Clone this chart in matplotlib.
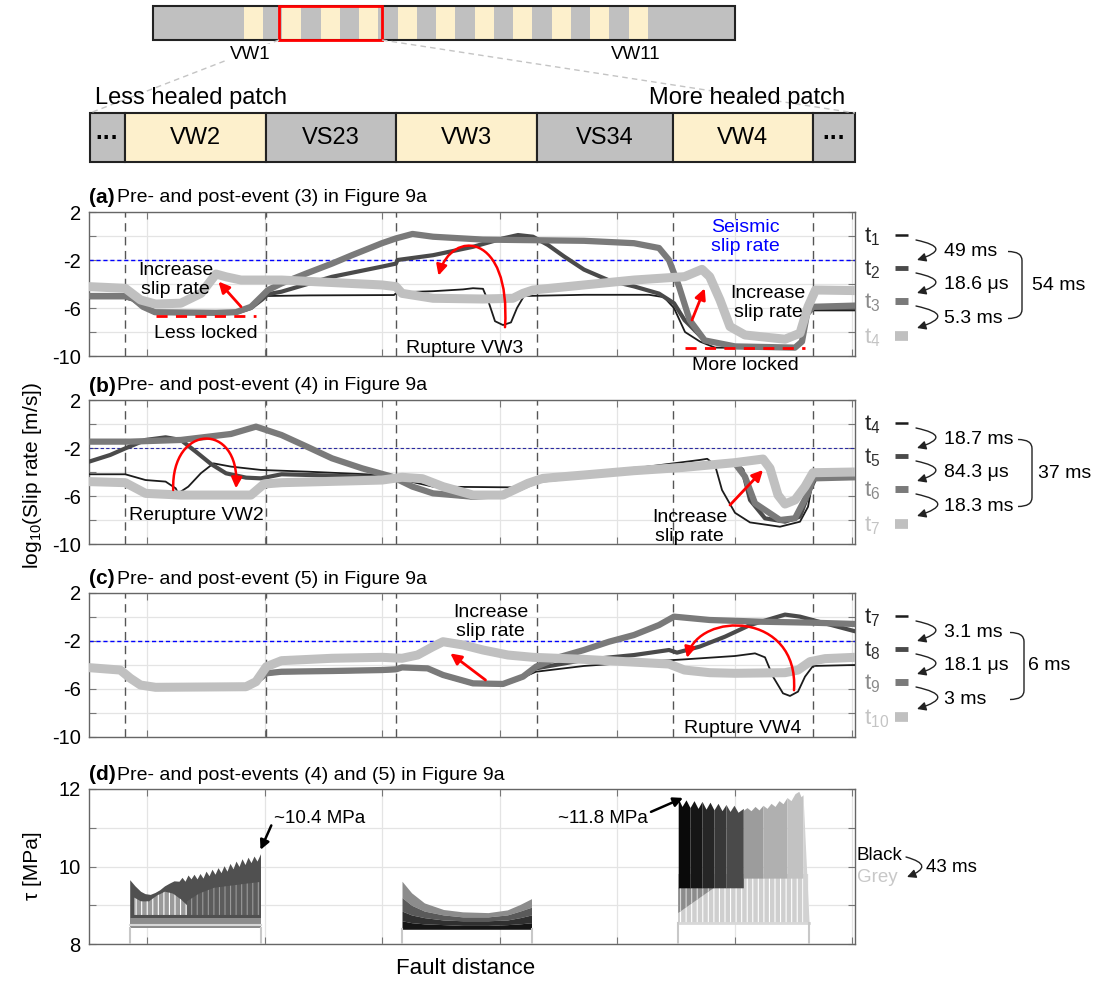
import numpy as np
import matplotlib
matplotlib.use('Agg')
from matplotlib import pyplot as plt
from matplotlib.path import Path
from matplotlib.patches import Rectangle, PathPatch, FancyArrowPatch

plt.rcParams['font.family'] = ['Liberation Sans', 'DejaVu Sans']
plt.rcParams['mathtext.fontset'] = 'custom'
plt.rcParams['mathtext.rm'] = 'Liberation Sans'
plt.rcParams['mathtext.it'] = 'Liberation Sans:italic'
plt.rcParams['hatch.linewidth'] = 0.8


# ---------------- data ----------------
patch_edges = [3.55, 17.7, 30.7, 44.8, 58.35, 72.4]      # VS/VW boundaries
xgrid       = [5.8, 17.55, 29.3, 41.05, 52.8, 64.55, 76.3]

# (a) event (3): t1..t4
a_t1_x = [0, 3.6, 4.4, 5.4, 6.6, 12.7, 14.7, 16.2, 17.2, 17.8, 22.0, 30.5, 30.8, 34.4, 37.4, 38.4, 39.4, 40.0, 40.6, 41.4, 42.2, 42.8, 43.5, 49.5, 56.0, 57.5, 58.5, 59.6, 61.1, 62.6, 67.0, 70.6, 71.3, 71.8, 72.4, 76.6]
a_t1_v = [-5.06, -5.06, -5.2, -5.9, -6.4, -6.45, -6.4, -6.0, -5.3, -5.0, -4.95, -4.92, -4.7, -4.6, -4.45, -4.35, -4.4, -5.6, -7.1, -7.42, -7.2, -6.0, -5.0, -4.9, -4.9, -5.1, -6.0, -8.0, -8.8, -9.3, -9.35, -9.3, -8.5, -6.6, -6.2, -6.2]
a_t2_x = [0, 3.6, 4.4, 5.4, 6.6, 12.7, 14.7, 16.2, 17.3, 17.9, 19.25, 24.3, 29.3, 30.7, 30.85, 34.4, 38.4, 41.4, 42.9, 44.4, 45.9, 47.5, 49.5, 52, 54.5, 57, 58.5, 59.55, 61.57, 64.6, 70.6, 71.3, 71.8, 72.4, 76.6]
a_t2_v = [-5.1, -5.1, -5.3, -5.9, -6.4, -6.45, -6.4, -6.0, -5.3, -4.85, -4.64, -3.4, -2.55, -2.3, -2.0, -1.6, -0.9, -0.2, 0.08, -0.06, -0.75, -1.7, -2.8, -3.7, -4.2, -4.8, -5.6, -7.0, -8.7, -9.25, -9.3, -8.8, -6.5, -6.0, -6.0]
a_t3_x = [0, 3.6, 4.4, 5.4, 6.6, 12.7, 14.7, 16.2, 17.3, 17.9, 19.25, 21.8, 24.3, 26.3, 29.3, 30.7, 32.35, 34.4, 39.4, 49.5, 54.5, 57.0, 58.0, 59.0, 60.06, 61.57, 64.6, 70.6, 71.3, 71.8, 72.4, 76.6]
a_t3_v = [-5.0, -5.0, -5.2, -5.9, -6.35, -6.4, -6.35, -5.9, -5.0, -4.5, -3.95, -3.1, -2.3, -1.6, -0.6, -0.2, 0.17, -0.06, -0.3, -0.4, -0.6, -1.0, -2.0, -4.2, -7.0, -8.7, -9.2, -9.3, -8.8, -6.5, -5.9, -5.8]
a_t4_x = [0, 3.63, 5.15, 6.66, 9.18, 11.2, 12.7, 13.7, 15.2, 19.25, 29.3, 30.7, 31.3, 34.4, 39.4, 42.4, 43.4, 44.4, 49.5, 54.5, 59.55, 61.3, 62.07, 63.1, 64.1, 65.6, 69.6, 71.1, 71.9, 72.65, 76.6]
a_t4_v = [-4.22, -4.36, -5.33, -5.67, -5.6, -4.78, -3.17, -3.4, -3.67, -3.67, -4.08, -4.22, -4.78, -5.19, -5.25, -5.19, -4.78, -4.5, -4.08, -3.67, -3.39, -2.78, -3.39, -5.33, -7.55, -8.25, -8.6, -8.1, -5.9, -4.5, -4.55]

# (b) event (4): t4..t7
b_t4_x = [0, 3.63, 5.65, 7.66, 8.67, 8.92, 9.93, 11.19, 12.45, 14.2, 17.2, 21.8, 29.3, 30.7, 34.4, 42.4, 44.4, 49.5, 54.5, 61.06, 61.82, 62.6, 63.3, 64.6, 66.1, 69.1, 71.1, 71.9, 72.4, 76.6]
b_t4_v = [-4.19, -4.19, -4.67, -4.8, -5.36, -5.78, -5.22, -4.1, -3.28, -3.55, -3.83, -3.97, -4.25, -4.53, -5.22, -5.28, -4.8, -4.1, -3.7, -3.0, -2.9, -3.42, -5.5, -7.4, -8.2, -8.56, -8.14, -6.9, -4.67, -4.39]
b_t5_x = [0, 2.12, 3.63, 5.65, 7.66, 9.18, 10.69, 12.2, 13.7, 15.7, 17.2, 19.25, 24.3, 29.3, 30.7, 32.35, 34.4, 38.4, 41.4, 43.4, 44.7, 49.5, 54.5, 59.55, 64.6, 65.35, 66.1, 67.6, 69.6, 71.1, 72.1, 72.65, 76.6]
b_t5_v = [-3.14, -2.58, -2.03, -1.33, -1.11, -1.33, -2.31, -3.33, -4.11, -4.47, -4.53, -4.19, -4.3, -4.44, -4.58, -5.22, -5.78, -6.11, -5.92, -5.22, -4.67, -4.25, -3.83, -3.5, -3.28, -3.83, -6.33, -7.86, -8.14, -7.72, -5.5, -4.53, -4.39]
b_t6_x = [0, 4.14, 9.18, 14.2, 16.7, 19.25, 21.8, 24.3, 27.3, 30.3, 32.35, 34.4, 38.4, 41.4, 43.4, 44.9, 49.5, 54.5, 59.55, 64.6, 65.6, 66.6, 69.1, 70.6, 71.9, 72.4, 76.6]
b_t6_v = [-1.47, -1.47, -1.33, -0.83, -0.22, -0.92, -1.89, -2.86, -3.69, -4.39, -5.22, -5.78, -6.06, -5.92, -5.22, -4.67, -4.25, -3.83, -3.5, -3.28, -4.39, -6.61, -8.0, -7.86, -5.78, -4.53, -4.44]
b_t7_x = [0, 3.63, 5.65, 9.18, 16.2, 17.5, 19.25, 29.3, 31.3, 33.35, 35.4, 38.4, 41.4, 43.9, 45.4, 49.5, 54.5, 59.55, 64.6, 67.4, 68.1, 68.9, 69.6, 70.6, 71.6, 72.4, 76.6]
b_t7_v = [-4.8, -4.89, -5.78, -5.92, -5.92, -5.0, -4.89, -4.67, -4.44, -4.56, -5.22, -5.92, -5.92, -4.94, -4.53, -4.25, -3.89, -3.61, -3.22, -2.92, -3.69, -5.92, -6.67, -6.33, -5.22, -4.06, -4.0]

# (c) event (5): t7..t10
c_t7_x = [0, 3.13, 4.14, 5.15, 6.66, 15.7, 16.7, 17.74, 19.25, 24.3, 29.3, 30.7, 31.3, 33.86, 35.4, 38.4, 41.4, 43.4, 44.7, 49.5, 54.5, 59.55, 64.6, 66.6, 67.6, 68.4, 69.4, 70.1, 70.9, 71.6, 72.4, 76.6]
c_t7_v = [-4.32, -4.47, -5.15, -5.72, -5.9, -5.85, -5.42, -4.75, -4.62, -4.56, -4.48, -4.43, -4.25, -4.33, -4.88, -5.58, -5.62, -5.03, -4.56, -4.08, -3.78, -3.53, -3.25, -3.03, -3.36, -4.97, -6.36, -6.58, -6.22, -4.97, -4.08, -4.0]
c_t8_x = [0, 3.13, 4.14, 5.15, 6.66, 15.7, 16.7, 17.74, 19.25, 24.3, 29.3, 30.7, 31.3, 33.86, 35.4, 38.4, 41.4, 43.4, 44.7, 49.5, 54.5, 58.0, 58.8, 61.06, 63.6, 66.1, 69.6, 71.1, 73.6, 76.6]
c_t8_v = [-4.3, -4.45, -5.13, -5.7, -5.88, -5.83, -5.4, -4.72, -4.6, -4.53, -4.45, -4.4, -4.22, -4.3, -4.86, -5.56, -5.6, -5.0, -4.28, -3.58, -3.17, -2.75, -2.97, -2.47, -1.64, -0.67, 0.2, 0.03, -0.53, -1.19]
c_t9_x = [0, 3.13, 4.14, 5.15, 6.66, 15.7, 16.7, 17.74, 19.25, 24.3, 29.3, 30.7, 31.3, 33.86, 35.4, 38.4, 41.4, 43.4, 44.7, 46.96, 49.5, 52.0, 54.5, 57.0, 58.5, 62.07, 67.1, 72.1, 76.6]
c_t9_v = [-4.28, -4.42, -5.11, -5.67, -5.86, -5.81, -5.39, -4.69, -4.56, -4.5, -4.42, -4.36, -4.2, -4.28, -4.83, -5.53, -5.58, -4.97, -4.14, -3.36, -2.75, -2.06, -1.5, -0.67, 0.03, -0.25, -0.39, -0.47, -0.58]
c_t10_x = [0, 3.13, 4.14, 5.15, 6.66, 15.7, 16.7, 17.74, 19.25, 24.3, 29.3, 31.3, 32.85, 34.4, 35.4, 37.4, 39.4, 41.9, 44.4, 49.5, 58.0, 59.55, 62.07, 64.6, 69.6, 70.9, 72.1, 73.6, 76.6]
c_t10_v = [-4.22, -4.42, -5.11, -5.67, -5.86, -5.81, -5.39, -4.14, -3.64, -3.44, -3.36, -3.44, -3.17, -2.47, -2.06, -2.33, -2.75, -3.17, -3.36, -3.53, -3.92, -4.42, -4.64, -4.69, -4.64, -4.42, -3.72, -3.47, -3.36]

# (d) shear stress envelopes, VW2 / VW3 / VW4
dl_x   = [4.07, 4.6, 5.16, 5.6, 6.12, 6.6, 7.07, 7.55, 8.03, 8.5, 9.0, 9.3, 9.6, 9.9, 10.2, 10.5, 10.8, 11.1, 11.4, 11.7, 12.0, 12.3, 12.6, 12.9, 13.2, 13.5, 13.8, 14.1, 14.4, 14.7, 15.0, 15.3, 15.6, 15.9, 16.2, 16.5, 16.8, 17.15]
dl_top = [9.66, 9.5, 9.36, 9.3, 9.28, 9.33, 9.4, 9.5, 9.57, 9.63, 9.62, 9.72, 9.62, 9.78, 9.68, 9.8, 9.68, 9.82, 9.7, 9.88, 9.76, 9.93, 9.8, 9.97, 9.84, 10.02, 9.88, 10.08, 9.94, 10.14, 10.0, 10.2, 10.05, 10.24, 10.1, 10.27, 10.14, 10.33]
dlh_x   = [4.5, 5.2, 6.0, 6.8, 7.6, 8.4, 9.2, 9.8]
dlh_top = [9.2, 9.1, 9.1, 9.25, 9.35, 9.3, 9.15, 9.0]
dld_x   = [9.8, 11.0, 12.5, 14.0, 15.5, 17.1]
dld_top = [9.1, 9.3, 9.45, 9.5, 9.55, 9.6]
dm_x  = [31.3, 32.26, 33.54, 35.45, 37.36, 39.91, 41.83, 43.1, 44.25]
dm_top = [9.62, 9.32, 9.06, 8.89, 8.83, 8.81, 8.88, 9.02, 9.17]
dm_b1  = [9.2, 9.0, 8.85, 8.75, 8.7, 8.7, 8.75, 8.85, 8.95]
dm_b2  = [8.85, 8.75, 8.68, 8.62, 8.6, 8.6, 8.62, 8.68, 8.75]
dm_b3  = [8.6, 8.55, 8.52, 8.5, 8.48, 8.48, 8.5, 8.52, 8.55]
dr_x   = [58.92, 59.3, 59.7, 60.1, 60.5, 60.9, 61.3, 61.7, 62.1, 62.5, 62.9, 63.3, 63.7, 64.1, 64.5, 64.9, 65.43]
dr_top = [11.76, 11.55, 11.72, 11.52, 11.7, 11.5, 11.68, 11.48, 11.66, 11.46, 11.63, 11.44, 11.6, 11.42, 11.58, 11.4, 11.5]
drl_x   = [65.43, 65.8, 66.2, 66.6, 67.0, 67.4, 67.8, 68.2, 68.6, 69.0, 69.4, 69.8, 70.2, 70.6, 70.98, 71.2, 71.4]
drl_top = [11.45, 11.52, 11.44, 11.55, 11.46, 11.58, 11.5, 11.63, 11.55, 11.7, 11.62, 11.78, 11.7, 11.88, 11.94, 11.8, 11.85]

time_labels = [['1', '2', '3', '4'], ['4', '5', '6', '7'], ['7', '8', '9', '10']]
time_steps  = [['49 ms', '18.6 μs', '5.3 ms'], ['18.7 ms', '84.3 μs', '18.3 ms'], ['3.1 ms', '18.1 μs', '3 ms']]
time_total  = ['54 ms', '37 ms', '6 ms']

line_col = ['#1c1c1c', '#4a4a4a', '#7a7a7a', '#c0c0c0']
line_lw  = [1.3, 3.0, 4.5, 6.5]
lab_col  = ['#222222', '#333333', '#8a8a8a', '#c4c4c4']


# ---------------- figure ----------------
W, H = 1097, 982
fig = plt.figure(figsize=(W/100, H/100), dpi=100)

def px_axes(l, t, r, b):
    return fig.add_axes([l/W, 1-b/H, (r-l)/W, (b-t)/H])

def style(ax, ylim, yticks, ylabs, dashed=True):
    ax.set_xlim(0, 76.6)
    ax.set_ylim(*ylim)
    ax.set_xticks(xgrid)
    ax.set_xticklabels([])
    ax.set_yticks(yticks)
    ax.set_yticklabels(ylabs, fontsize=14.5)
    ax.tick_params(direction='in', length=5, color='#777', top=True, right=True, pad=6)
    ax.grid(True, color='#e4e4e4', lw=0.9)
    ax.set_axisbelow(True)
    for s in ax.spines.values():
        s.set_color('#666'); s.set_linewidth(1)
    if dashed:
        for xb in patch_edges:
            ax.axvline(xb, color='#555', ls=(0, (6, 4)), lw=1, zorder=1)

def curves(ax, xs, vs):
    # plotted in time order: the later (lighter, thicker) snapshot lies on top
    for i in range(4):
        ax.plot(xs[i], vs[i], color=line_col[i], lw=line_lw[i], zorder=3+i,
                solid_joinstyle='round', solid_capstyle='round')

def red_arrow(ax, start, end):
    ax.annotate('', xy=end, xytext=start,
                arrowprops=dict(arrowstyle='-|>', color='red', lw=2, mutation_scale=16,
                                shrinkA=0, shrinkB=0), zorder=8)

def red_loop(ax, verts):
    p = Path(verts, [Path.MOVETO, Path.CURVE4, Path.CURVE4, Path.CURVE4])
    ax.add_patch(FancyArrowPatch(path=p, arrowstyle='-|>', mutation_scale=16,
                                 color='red', lw=1.8, zorder=8))

slip_ticks = [2, 0, -2, -4, -6, -8, -10]
slip_labs  = ['2', '', '-2', '', '-6', '', '-10']

# (a)
ax_a = px_axes(89, 212, 855, 356)
style(ax_a, (-10, 2), slip_ticks, slip_labs)
ax_a.axhline(-2, color='blue', ls=(0, (3, 2)), lw=1, zorder=2)
curves(ax_a, [a_t1_x, a_t2_x, a_t3_x, a_t4_x], [a_t1_v, a_t2_v, a_t3_v, a_t4_v])
ax_a.plot([6.66, 16.7], [-6.67, -6.67], color='red', ls=(0, (4, 3)), lw=2, zorder=9)
ax_a.plot([59.55, 71.6], [-9.31, -9.31], color='red', ls=(0, (4, 3)), lw=2, zorder=9)
red_arrow(ax_a, (15.2, -5.89), (12.95, -3.8))
red_arrow(ax_a, (60.3, -7.0), (61.57, -4.36))
red_loop(ax_a, [(41.6, -7.6), (42.2, 0.3), (36.3, 0.6), (34.95, -3.3)])
ax_a.text(8.67, -3.67, 'Increase\nslip rate', ha='center', va='center', fontsize=14, linespacing=1.15, zorder=10)
ax_a.text(11.7, -8.1, 'Less locked', ha='center', va='center', fontsize=14, zorder=10)
ax_a.text(37.6, -9.4, 'Rupture VW3', ha='center', va='center', fontsize=14, zorder=10)
ax_a.text(65.6, -10.75, 'More locked', ha='center', va='center', fontsize=14, clip_on=False)
ax_a.text(67.9, -5.6, 'Increase\nslip rate', ha='center', va='center', fontsize=14, linespacing=1.15, zorder=10)
ax_a.text(65.6, -0.1, 'Seismic\nslip rate', ha='center', va='center', fontsize=14, color='blue', linespacing=1.15, zorder=10)

# (b)
ax_b = px_axes(89, 400, 855, 544)
style(ax_b, (-10, 2), slip_ticks, slip_labs)
ax_b.axhline(-2, color='#2a2aa0', ls=(0, (3, 2)), lw=0.8, zorder=2)
curves(ax_b, [b_t4_x, b_t5_x, b_t6_x, b_t7_x], [b_t4_v, b_t5_v, b_t6_v, b_t7_v])
red_loop(ax_b, [(8.42, -5.5), (8.2, 0.1), (15.1, 0.2), (14.7, -5.36)])
red_arrow(ax_b, (64.1, -6.75), (67.4, -3.83))
ax_b.text(10.7, -7.6, 'Rerupture VW2', ha='center', va='center', fontsize=14, zorder=10)
ax_b.text(60.06, -8.56, 'Increase\nslip rate', ha='center', va='center', fontsize=14, linespacing=1.15, zorder=10)

# (c)
ax_c = px_axes(89, 593, 855, 737)
style(ax_c, (-10, 2), slip_ticks, slip_labs)
ax_c.axhline(-2, color='blue', ls=(0, (3, 2)), lw=1, zorder=2)
curves(ax_c, [c_t7_x, c_t8_x, c_t9_x, c_t10_x], [c_t7_v, c_t8_v, c_t9_v, c_t10_v])
red_arrow(ax_c, (39.65, -5.25), (36.13, -3.03))
red_loop(ax_c, [(70.5, -6.1), (71.0, 0.5), (61.0, 0.5), (59.8, -3.4)])
ax_c.text(40.16, -0.39, 'Increase\nslip rate', ha='center', va='center', fontsize=14, linespacing=1.15, zorder=10)
ax_c.text(65.35, -9.28, 'Rupture VW4', ha='center', va='center', fontsize=14, zorder=10)

# (d)
ax_d = px_axes(89, 789, 855, 944)
style(ax_d, (8, 12), [8, 9, 10, 11, 12], ['8', '', '10', '', '12'], dashed=False)
# VW2
ax_d.fill_between(dl_x, 8.68, dl_top, color='#505050', lw=0, zorder=2)
ax_d.fill_between(dlh_x, 8.75, dlh_top, facecolor='#9a9a9a', edgecolor='white', hatch='|||', lw=0, zorder=3)
ax_d.fill_between(dld_x, 8.75, dld_top, facecolor='#5c5c5c', edgecolor='#9a9a9a', hatch='|||', lw=0, zorder=3)
ax_d.fill_between([4.07, 17.15], 8.42, 8.68, color='#8c8c8c', lw=0, zorder=3)
ax_d.plot([4.07, 17.15], [8.5, 8.5], color='#d8d8d8', lw=1.5, zorder=4)
# VW3
ax_d.fill_between(dm_x, dm_b1, dm_top, color='#8c8c8c', lw=0, zorder=2)
ax_d.fill_between(dm_x, dm_b2, dm_b1, color='#5a5a5a', lw=0, zorder=2)
ax_d.fill_between(dm_x, dm_b3, dm_b2, color='#303030', lw=0, zorder=2)
ax_d.fill_between(dm_x, 8.38, dm_b3, color='#151515', lw=0, zorder=2)
# VW4
ax_d.fill_between([58.92, 72.0], 8.55, 9.8, facecolor='#cfcfcf', edgecolor='white', hatch='|||', lw=0, zorder=2)
ax_d.fill_between([58.92, 62.5], [8.8, 9.45], 9.45, facecolor='#8c8c8c', edgecolor='#d8d8d8', hatch='|||', lw=0, zorder=3)
for sl, col in [(slice(0, 4), '#0a0a0a'), (slice(3, 7), '#161616'), (slice(6, 10), '#262626'),
                (slice(9, 13), '#383838'), (slice(12, 17), '#4a4a4a')]:
    ax_d.fill_between(dr_x[sl], 9.45, dr_top[sl], color=col, lw=0, zorder=3)
for sl, col in [(slice(0, 6), '#9c9c9c'), (slice(5, 12), '#b0b0b0'), (slice(11, 17), '#c2c2c2')]:
    ax_d.fill_between(drl_x[sl], 9.7, drl_top[sl], color=col, lw=0, zorder=3)
ax_d.fill_between([71.4, 72.0], 8.55, [11.85, 8.6], color='#d2d2d2', lw=0, zorder=3)
ax_d.plot([58.92, 72.0], [8.55, 8.55], color='#d8d8d8', lw=2, zorder=4)
for xe, yb in [(4.07, 8.42), (17.15, 8.42), (31.3, 8.38), (44.25, 8.38), (58.92, 8.55), (72.0, 8.55)]:
    ax_d.plot([xe, xe], [8.0, yb], color='#c8c8c8', lw=1.5, zorder=4)
ax_d.annotate('', xy=(17.15, 10.43), xytext=(18.23, 11.06),
              arrowprops=dict(arrowstyle='-|>', color='black', lw=1.8, mutation_scale=14, shrinkA=0, shrinkB=0))
ax_d.text(18.55, 11.23, '~10.4 MPa', ha='left', va='center', fontsize=13.5)
ax_d.annotate('', xy=(59.4, 11.77), xytext=(56.2, 11.41),
              arrowprops=dict(arrowstyle='-|>', color='black', lw=1.8, mutation_scale=14, shrinkA=0, shrinkB=0))
ax_d.text(55.9, 11.23, '~11.8 MPa', ha='right', va='center', fontsize=13.5)


# ---------------- overlay: schematic, labels, time legends ----------------
ov = fig.add_axes([0, 0, 1, 1])
ov.set_xlim(0, W); ov.set_ylim(H, 0); ov.axis('off'); ov.patch.set_alpha(0)

# fault overview bar
ov.plot([279, 90], [40, 113], color='#c4c4c4', ls=(0, (4, 3)), lw=1)
ov.plot([382, 855], [40, 113], color='#c4c4c4', ls=(0, (4, 3)), lw=1)
ov.add_patch(Rectangle((153, 6), 582, 34, fc='#c0c0c0', ec='none'))
for i in range(11):
    ov.add_patch(Rectangle((243.5 + 38.5*i, 6), 19.3, 34, fc='#fdf0cc', ec='none'))
ov.add_patch(Rectangle((153, 6), 582, 34, fill=False, ec='#222', lw=1.5))
ov.add_patch(Rectangle((279, 6), 103, 34, fill=False, ec='red', lw=2))
ov.text(250, 54, 'VW1', ha='center', va='center', fontsize=13.5,
        bbox=dict(fc='white', ec='none', pad=1))
ov.text(636, 54, 'VW11', ha='center', va='center', fontsize=13.5)

# zoomed patch bar
bar_edges = [90, 124.5, 266, 396, 537, 672.5, 813, 855]
bar_labels = ['···', 'VW2', 'VS23', 'VW3', 'VS34', 'VW4', '···']
for i, lab in enumerate(bar_labels):
    fc = '#fdf0cc' if lab.startswith('VW') else '#c0c0c0'
    ov.add_patch(Rectangle((bar_edges[i], 113), bar_edges[i+1]-bar_edges[i], 49, fc=fc, ec='#222', lw=1.5))
    ov.text((bar_edges[i] + bar_edges[i+1])/2, 138, lab, ha='center', va='center', fontsize=17,
            fontweight='bold' if lab == '···' else 'normal')
ov.text(95, 98, 'Less healed patch', ha='left', va='center', fontsize=17)
ov.text(845, 98, 'More healed patch', ha='right', va='center', fontsize=17)

# panel titles
for tag, title, y in [('(a)', 'Pre- and post-event (3) in Figure 9a', 197),
                      ('(b)', 'Pre- and post-event (4) in Figure 9a', 386),
                      ('(c)', 'Pre- and post-event (5) in Figure 9a', 579),
                      ('(d)', 'Pre- and post-events (4) and (5) in Figure 9a', 775)]:
    ov.text(89, y, tag, fontweight='bold', fontsize=15, ha='left', va='center')
    ov.text(117, y, title, fontsize=14, ha='left', va='center')

ov.text(33, 475, r'log$_{10}$(Slip rate [m/s])', rotation=90, ha='center', va='center', fontsize=15)
ov.text(33, 866, 'τ [MPa]', rotation=90, ha='center', va='center', fontsize=15)
ov.text(466, 968, 'Fault distance', ha='center', va='center', fontsize=16)

def brace(x0, y0, y1, w=14, r=9):
    verts = [(x0, y0), (x0+w, y0), (x0+w, y0+r), (x0+w, y1-r), (x0+w, y1), (x0, y1)]
    codes = [Path.MOVETO, Path.CURVE3, Path.CURVE3, Path.LINETO, Path.CURVE3, Path.CURVE3]
    ov.add_patch(PathPatch(Path(verts, codes), fill=False, lw=1, ec='#222'))

def arc_arrow(x, y0, y1, rad=-1.9):
    ov.annotate('', xy=(x+1, y1), xytext=(x, y0),
                arrowprops=dict(arrowstyle='-|>', connectionstyle=f'arc3,rad={rad}', lw=1,
                                color='#222', shrinkA=0, shrinkB=0, mutation_scale=13))

for k, (top, bx, tx) in enumerate([(212, 1008, 1032), (400, 1018, 1038), (593, 1010, 1028)]):
    ys = [top+25, top+58, top+91, top+126]
    for i in range(4):
        ov.text(864, ys[i], r'$\mathrm{t}_{%s}$' % time_labels[k][i], color=lab_col[i], fontsize=16,
                ha='left', va='center')
        ov.plot([895, 908], [ys[i]-2, ys[i]-2], color=line_col[i], lw=line_lw[i]+0.5,
                solid_capstyle='butt')
    dts = []
    for j in range(3):
        arc_arrow(916, ys[j]+3, ys[j+1]-10)
        yt = (ys[j] + ys[j+1])/2 - 2
        dts.append(yt)
        ov.text(944, yt, time_steps[k][j], fontsize=14, ha='left', va='center')
    brace(bx, dts[0], dts[2])
    ov.text(tx, (dts[0]+dts[2])/2, time_total[k], fontsize=14, ha='left', va='center')

ov.text(856, 856, 'Black', fontsize=13.5, ha='left', va='center')
ov.text(857, 878, 'Grey', fontsize=13.5, ha='left', va='center', color='#c8c8c8')
arc_arrow(906, 857, 877, rad=-1.5)
ov.text(926, 868, '43 ms', fontsize=13.5, ha='left', va='center')

fig.savefig('out.png', dpi=100)
